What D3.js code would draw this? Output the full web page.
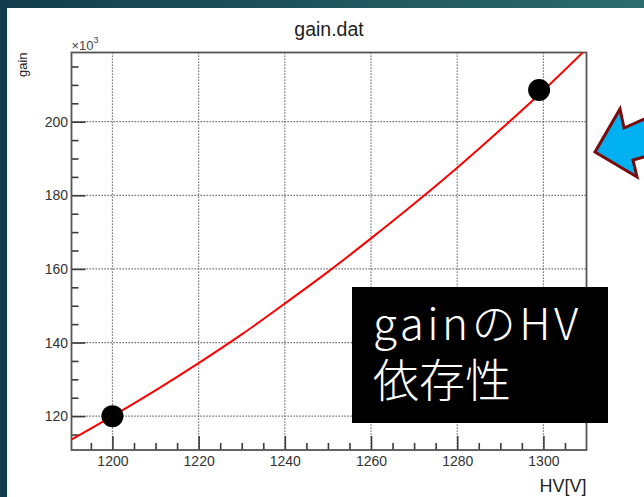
<!DOCTYPE html>
<meta charset="utf-8">
<style>
    body { margin: 0; background: #fff; }
    svg { display: block; }
    .axis text { font: 14px "Liberation Sans", Arial, sans-serif; fill: #333; }
    .axis path { display: none; }
    .axis line { stroke: #3a3a3a; stroke-width: 1.6; }
    .grid line { stroke: #555; stroke-width: 1.2; stroke-dasharray: 1.3, 1.7; }
</style>
<body>
<script src="https://cdn.jsdelivr.net/npm/d3@7"></script>
<script>

    // values
    var hv = [1190, 1200, 1210, 1220, 1230, 1240, 1250, 1260, 1270, 1280, 1290, 1300, 1310];
    var gain = [113.3, 120, 127, 134.4, 142.2, 150.6, 159.2, 168.3, 177.7, 187.5, 197.8, 208.5, 219.8];

    var markerHv = [1200, 1299];
    var markerGain = [120, 208.6];

    var xTicks = [1200, 1220, 1240, 1260, 1280, 1300];
    var yTicks = [120, 140, 160, 180, 200];
    var xMinor = d3.range(1195, 1310, 5);
    var yMinor = d3.range(115, 220, 5);

    var W = 644, H = 497;
    var frame = {left: 71.5, right: 586.5, top: 52.5, bottom: 450};

    var x = d3.scaleLinear().domain([1190.5, 1310]).range([frame.left, frame.right]);
    var y = d3.scaleLinear().domain([110.8, 218.8]).range([frame.bottom, frame.top]);

    var svg = d3.select("body").append("svg")
            .attr("width", W)
            .attr("height", H);

    var defs = svg.append("defs");
    var bg = defs.append("linearGradient")
            .attr("id", "bg")
            .attr("x1", 0).attr("y1", 0).attr("x2", 1).attr("y2", 0);
    bg.append("stop").attr("offset", 0).attr("stop-color", "#133d4c");
    bg.append("stop").attr("offset", 1).attr("stop-color", "#2c6b6b");

    defs.append("clipPath")
            .attr("id", "plotClip")
        .append("rect")
            .attr("x", frame.left)
            .attr("y", frame.top)
            .attr("width", frame.right - frame.left)
            .attr("height", frame.bottom - frame.top);

    // slide background
    svg.append("rect")
            .attr("width", W).attr("height", H)
            .attr("fill", "url(#bg)");
    svg.append("rect")
            .attr("x", 7).attr("y", 8)
            .attr("width", W - 7).attr("height", H - 8)
            .attr("fill", "#fff");

    // grid
    var grid = svg.append("g").attr("class", "grid");
    grid.selectAll("line.v").data(xTicks).enter().append("line")
            .attr("class", "v")
            .attr("x1", function(d) { return x(d); })
            .attr("x2", function(d) { return x(d); })
            .attr("y1", frame.top)
            .attr("y2", frame.bottom);
    grid.selectAll("line.h").data(yTicks).enter().append("line")
            .attr("class", "h")
            .attr("x1", frame.left)
            .attr("x2", frame.right)
            .attr("y1", function(d) { return y(d); })
            .attr("y2", function(d) { return y(d); });

    // axes, ticks pointing inward like ROOT
    svg.append("g")
            .attr("class", "x axis")
            .attr("transform", "translate(0," + frame.bottom + ")")
            .call(d3.axisBottom(x).tickValues(xTicks).tickSize(-14).tickPadding(6).tickFormat(d3.format("d")));
    svg.append("g")
            .attr("class", "x axis")
            .attr("transform", "translate(0," + frame.bottom + ")")
            .call(d3.axisBottom(x).tickValues(xMinor.filter(function(d) { return xTicks.indexOf(d) < 0; })).tickSize(-7).tickFormat(""));

    svg.append("g")
            .attr("class", "y axis")
            .attr("transform", "translate(" + frame.left + ",0)")
            .call(d3.axisLeft(y).tickValues(yTicks).tickSize(-14).tickPadding(3.5).tickFormat(d3.format("d")));
    svg.append("g")
            .attr("class", "y axis")
            .attr("transform", "translate(" + frame.left + ",0)")
            .call(d3.axisLeft(y).tickValues(yMinor.filter(function(d) { return yTicks.indexOf(d) < 0; })).tickSize(-7).tickFormat(""));

    // frame
    svg.append("rect")
            .attr("x", frame.left)
            .attr("y", frame.top)
            .attr("width", frame.right - frame.left)
            .attr("height", frame.bottom - frame.top)
            .attr("fill", "none")
            .attr("stroke", "#555")
            .attr("stroke-width", 1.8);

    // curve
    var line = d3.line()
            .x(function(d, i) { return x(hv[i]); })
            .y(function(d) { return y(d); })
            .curve(d3.curveMonotoneX);

    svg.append("path")
            .datum(gain)
            .attr("clip-path", "url(#plotClip)")
            .attr("d", line)
            .attr("fill", "none")
            .attr("stroke", "#ff0000")
            .attr("stroke-width", 2);

    svg.selectAll("circle.marker").data(markerHv).enter().append("circle")
            .attr("class", "marker")
            .attr("cx", function(d) { return x(d); })
            .attr("cy", function(d, i) { return y(markerGain[i]); })
            .attr("r", 11)
            .attr("fill", "#000");

    // titles
    svg.append("text")
            .attr("x", (frame.left + frame.right) / 2)
            .attr("y", 36)
            .attr("text-anchor", "middle")
            .style("font", "19.5px 'Liberation Sans', Arial, sans-serif")
            .attr("fill", "#222")
            .text("gain.dat");

    svg.append("text")
            .attr("x", frame.right)
            .attr("y", 492)
            .attr("text-anchor", "end")
            .style("font", "18px 'Liberation Sans', Arial, sans-serif")
            .attr("fill", "#222")
            .text("HV[V]");

    svg.append("text")
            .attr("transform", "translate(27," + frame.top + ") rotate(-90)")
            .attr("text-anchor", "end")
            .style("font", "13px 'Liberation Sans', Arial, sans-serif")
            .attr("fill", "#222")
            .text("gain");

    var exp = svg.append("text")
            .attr("x", frame.left)
            .attr("y", 50)
            .style("font", "13px 'Liberation Sans', Arial, sans-serif")
            .attr("fill", "#444");
    exp.append("tspan").text("\u00d710");
    exp.append("tspan").attr("dy", -7).style("font-size", "9px").text("3");

    // annotation box
    svg.append("rect")
            .attr("x", 352).attr("y", 287)
            .attr("width", 256).attr("height", 136)
            .attr("fill", "#000");

    var jp = svg.append("text")
            .style("font-family", "'Noto Sans CJK JP', sans-serif")
            .style("font-weight", 300)
            .attr("fill", "#fff");
    jp.append("tspan")
            .attr("x", 373).attr("y", 340)
            .style("font-size", "44px")
            .style("letter-spacing", "3.5px")
            .text("gainのHV");
    jp.append("tspan")
            .attr("x", 373).attr("y", 397)
            .style("font-size", "46px")
            .text("依存性");

    // arrow pointing to the upper marker
    svg.append("polygon")
            .attr("points", [[595, 152], [620, 109], [624, 128], [660, 112], [668, 150], [633, 160], [637, 177]].join(" "))
            .attr("fill", "#00b0f0")
            .attr("stroke", "#7a0a0a")
            .attr("stroke-width", 3)
            .attr("stroke-linejoin", "miter");

</script>
